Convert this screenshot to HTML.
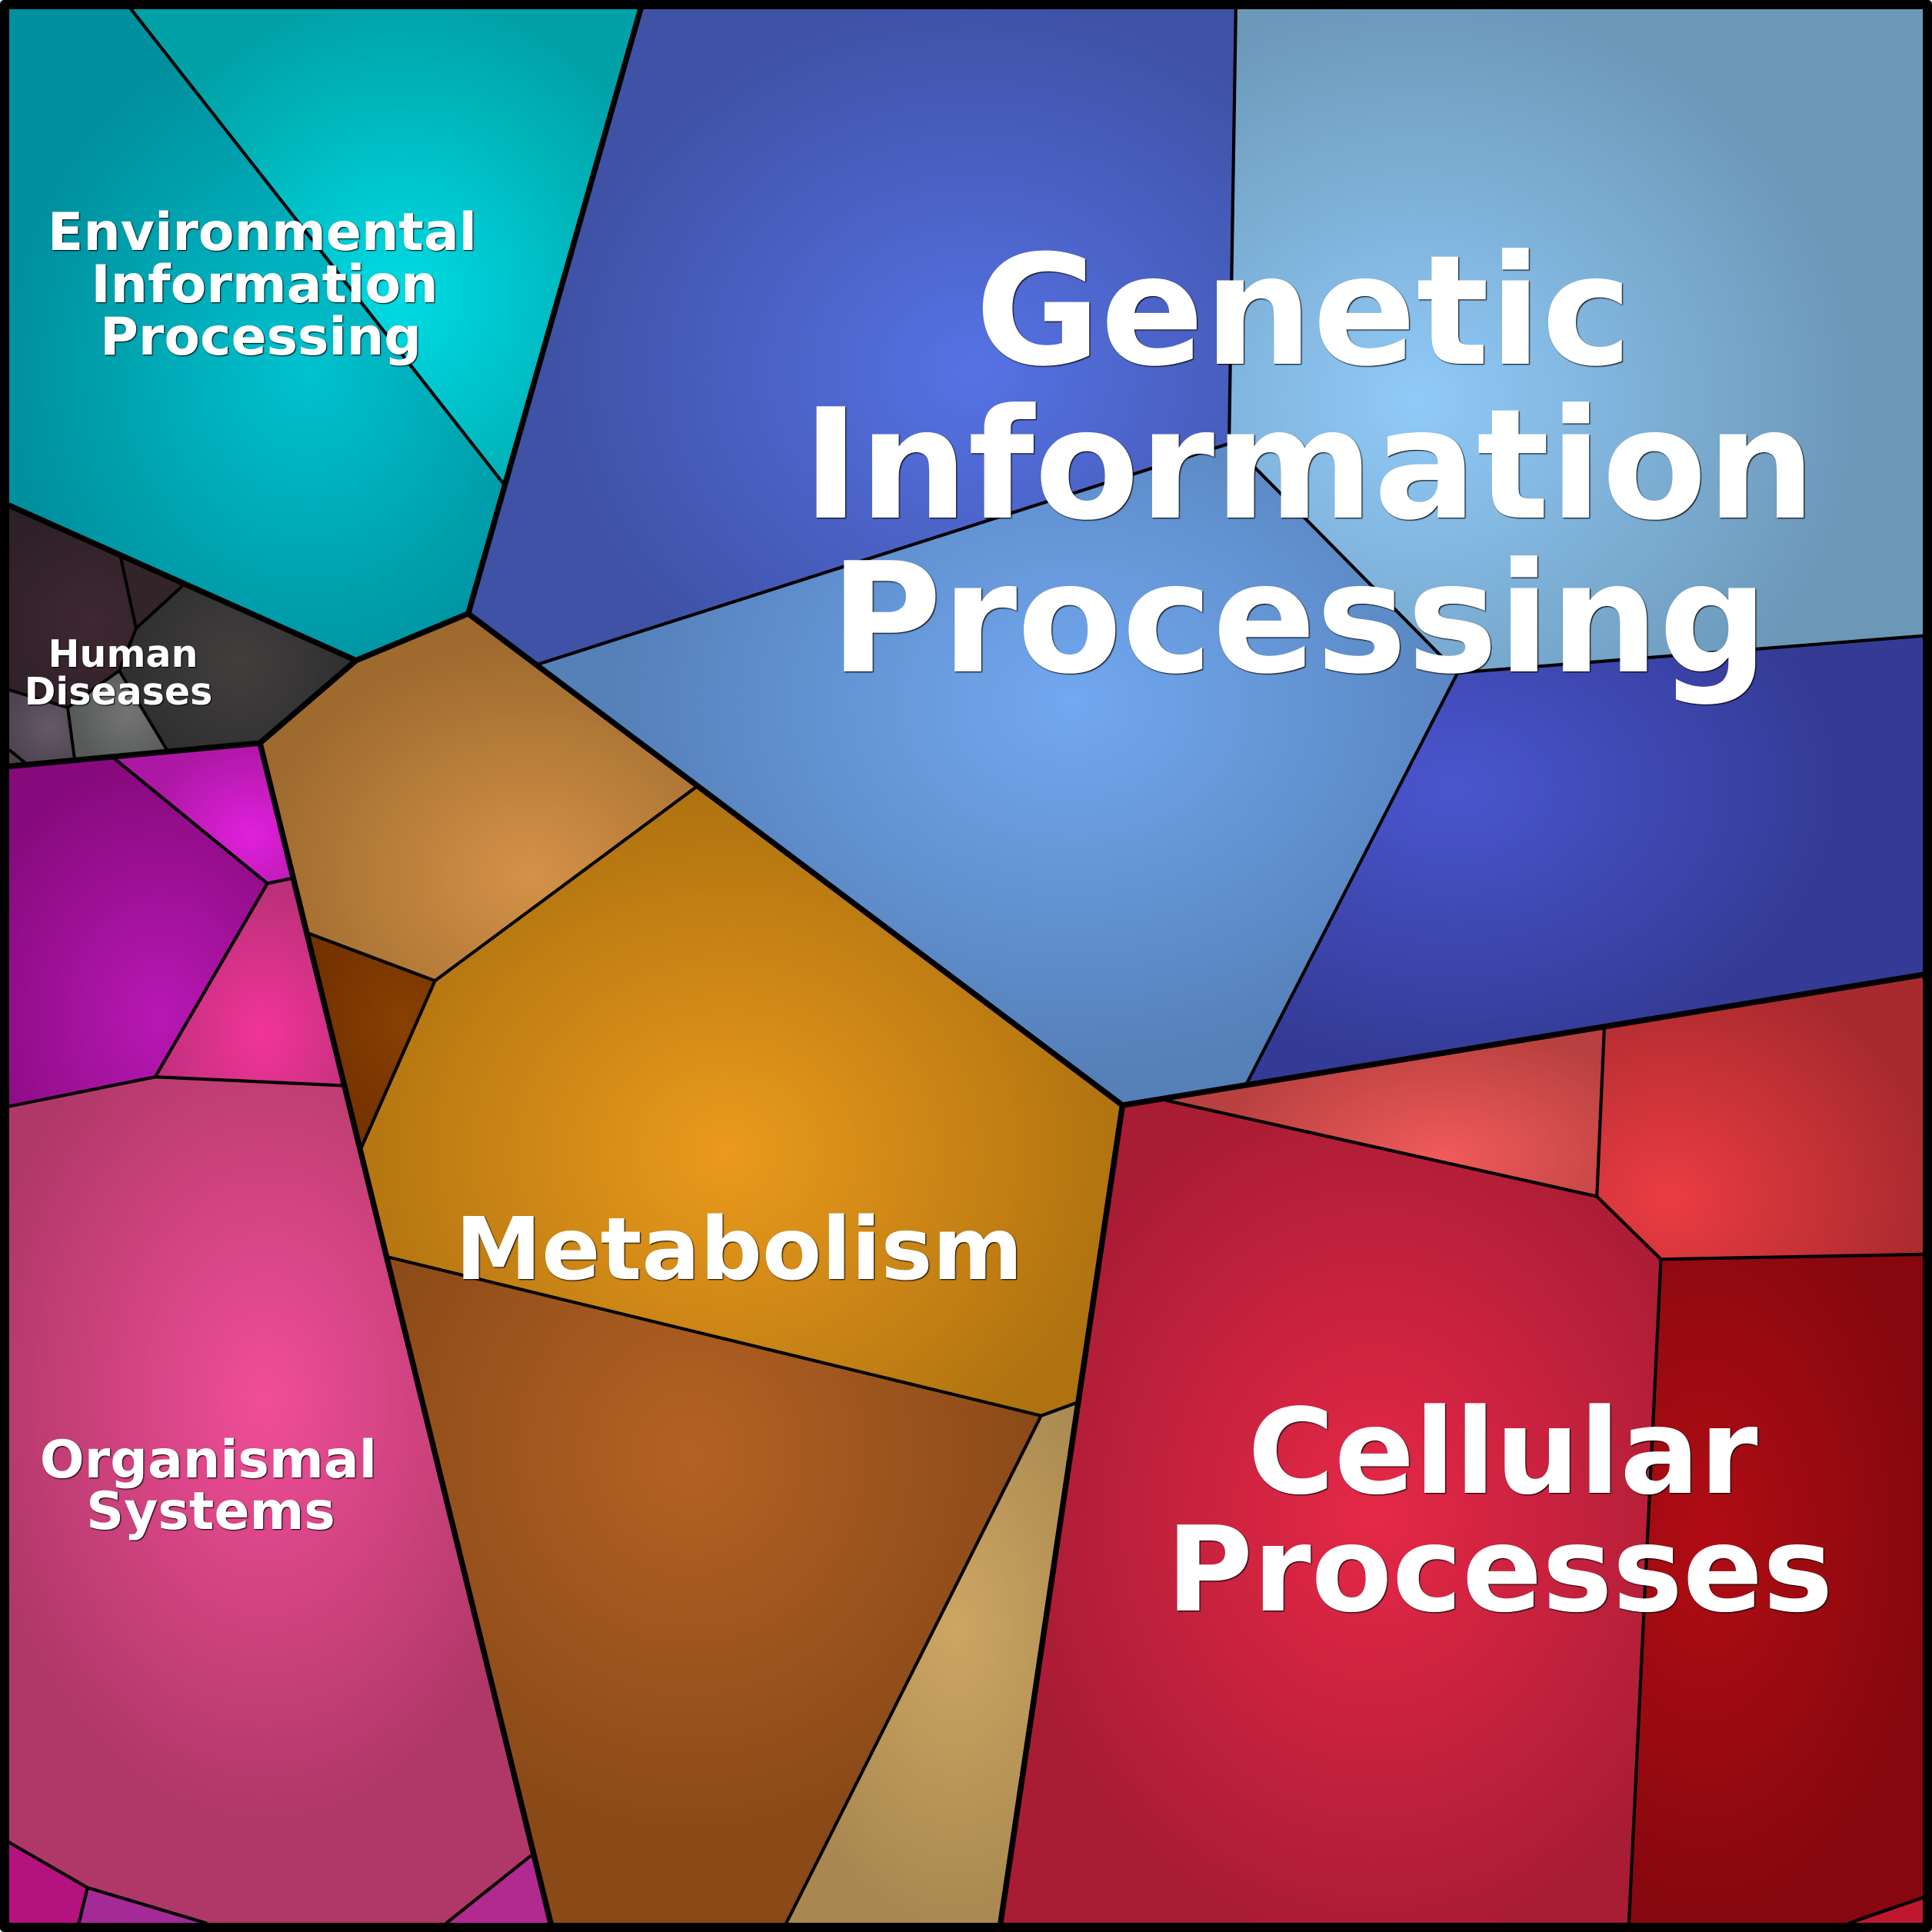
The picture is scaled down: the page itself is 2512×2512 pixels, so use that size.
<!DOCTYPE html>
<html><head><meta charset="utf-8"><style>
html,body{margin:0;padding:0;background:#fff}
svg{display:block}
text{font-family:"DejaVu Sans",sans-serif;font-weight:700;fill:#fff;text-anchor:middle}
.s{filter:drop-shadow(1.5px 1.5px .7px #000)}
.m{stroke:#000;stroke-width:4.2;stroke-linejoin:round;fill:none}
.M{stroke:#000;stroke-width:7.5;stroke-linejoin:round;fill:none}
</style></head><body>
<svg width="2512" height="2512" viewBox="0 0 2512 2512" xmlns="http://www.w3.org/2000/svg">
<defs>
<radialGradient id="e1" gradientUnits="userSpaceOnUse" cx="0" cy="0" r="1" gradientTransform="translate(250 300) scale(245 280)"><stop offset="0" stop-color="#00c2ce"/><stop offset="1" stop-color="#008f9d"/></radialGradient>
<radialGradient id="e2" gradientUnits="userSpaceOnUse" cx="0" cy="0" r="1" gradientTransform="translate(325 240) scale(230 240)"><stop offset="0" stop-color="#00dbe3"/><stop offset="1" stop-color="#00a2a8"/></radialGradient>
<radialGradient id="g1" gradientUnits="userSpaceOnUse" cx="0" cy="0" r="1" gradientTransform="translate(790 300) scale(340 300)"><stop offset="0" stop-color="#5672e4"/><stop offset="1" stop-color="#3f52a6"/></radialGradient>
<radialGradient id="g2" gradientUnits="userSpaceOnUse" cx="0" cy="0" r="1" gradientTransform="translate(1150 325) scale(360 330)"><stop offset="0" stop-color="#90caf8"/><stop offset="1" stop-color="#6c98b8"/></radialGradient>
<radialGradient id="g3" gradientUnits="userSpaceOnUse" cx="0" cy="0" r="1" gradientTransform="translate(870 570) scale(373 300)"><stop offset="0" stop-color="#72a8f0"/><stop offset="1" stop-color="#5580b8"/></radialGradient>
<radialGradient id="g4" gradientUnits="userSpaceOnUse" cx="0" cy="0" r="1" gradientTransform="translate(1180 640) scale(310 225)"><stop offset="0" stop-color="#4a56ce"/><stop offset="1" stop-color="#343b96"/></radialGradient>
<radialGradient id="m1" gradientUnits="userSpaceOnUse" cx="0" cy="0" r="1" gradientTransform="translate(430 710) scale(225 190)"><stop offset="0" stop-color="#d49248"/><stop offset="1" stop-color="#9e6a2e"/></radialGradient>
<radialGradient id="m2" gradientUnits="userSpaceOnUse" cx="0" cy="0" r="1" gradientTransform="translate(325 830) scale(70 90)"><stop offset="0" stop-color="#883f02"/><stop offset="1" stop-color="#753300"/></radialGradient>
<radialGradient id="m3" gradientUnits="userSpaceOnUse" cx="0" cy="0" r="1" gradientTransform="translate(590 935) scale(330 295)"><stop offset="0" stop-color="#ea9a1c"/><stop offset="1" stop-color="#ae7210"/></radialGradient>
<radialGradient id="m4" gradientUnits="userSpaceOnUse" cx="0" cy="0" r="1" gradientTransform="translate(560 1180) scale(285 310)"><stop offset="0" stop-color="#b46224"/><stop offset="1" stop-color="#8a4a18"/></radialGradient>
<radialGradient id="m5" gradientUnits="userSpaceOnUse" cx="0" cy="0" r="1" gradientTransform="translate(775 1320) scale(150 250)"><stop offset="0" stop-color="#cca662"/><stop offset="1" stop-color="#a88850"/></radialGradient>
<radialGradient id="c1" gradientUnits="userSpaceOnUse" cx="0" cy="0" r="1" gradientTransform="translate(1172 938) scale(190 105)"><stop offset="0" stop-color="#f05a5a"/><stop offset="1" stop-color="#b84040"/></radialGradient>
<radialGradient id="c2" gradientUnits="userSpaceOnUse" cx="0" cy="0" r="1" gradientTransform="translate(1355 972) scale(215 190)"><stop offset="0" stop-color="#ea3c42"/><stop offset="1" stop-color="#a82a2e"/></radialGradient>
<radialGradient id="c3" gradientUnits="userSpaceOnUse" cx="0" cy="0" r="1" gradientTransform="translate(1115 1228) scale(300 360)"><stop offset="0" stop-color="#e62848"/><stop offset="1" stop-color="#a81c34"/></radialGradient>
<radialGradient id="c4" gradientUnits="userSpaceOnUse" cx="0" cy="0" r="1" gradientTransform="translate(1384 1250) scale(185 310)"><stop offset="0" stop-color="#b00c14"/><stop offset="1" stop-color="#86080e"/></radialGradient>
<radialGradient id="o1" gradientUnits="userSpaceOnUse" cx="0" cy="0" r="1" gradientTransform="translate(203 677) scale(85 75)"><stop offset="0" stop-color="#e020dc"/><stop offset="1" stop-color="#ac18a4"/></radialGradient>
<radialGradient id="o2" gradientUnits="userSpaceOnUse" cx="0" cy="0" r="1" gradientTransform="translate(130 825) scale(165 210)"><stop offset="0" stop-color="#b818b4"/><stop offset="1" stop-color="#860a7c"/></radialGradient>
<radialGradient id="o3" gradientUnits="userSpaceOnUse" cx="0" cy="0" r="1" gradientTransform="translate(213 838) scale(100 125)"><stop offset="0" stop-color="#f23498"/><stop offset="1" stop-color="#b83078"/></radialGradient>
<radialGradient id="o4" gradientUnits="userSpaceOnUse" cx="0" cy="0" r="1" gradientTransform="translate(215 1135) scale(235 345)"><stop offset="0" stop-color="#f04e98"/><stop offset="1" stop-color="#b03868"/></radialGradient>
<radialGradient id="h1" gradientUnits="userSpaceOnUse" cx="120" cy="810" r="150"><stop offset="0" stop-color="#3e2832"/><stop offset="1" stop-color="#2e2028"/></radialGradient>
<radialGradient id="h3" gradientUnits="userSpaceOnUse" cx="310" cy="860" r="160"><stop offset="0" stop-color="#423e3e"/><stop offset="1" stop-color="#2e2e2e"/></radialGradient>
<radialGradient id="h4" gradientUnits="userSpaceOnUse" cx="165" cy="930" r="70"><stop offset="0" stop-color="#747474"/><stop offset="1" stop-color="#585a5a"/></radialGradient>
<radialGradient id="h5" gradientUnits="userSpaceOnUse" cx="65" cy="945" r="60"><stop offset="0" stop-color="#665868"/><stop offset="1" stop-color="#4c4450"/></radialGradient>
</defs>
<rect width="2512" height="2512" rx="5" fill="#000"/>
<g transform="scale(1.60204)">
<polygon fill="url(#e1)" points="7,7 106,7 409,393 380,498 289,536 7,410"/>
<polygon fill="url(#e2)" points="106,7 520,7 409,393"/>
<polygon fill="url(#g1)" points="520,7 1003,7 997.5,360 437,539 380,498"/>
<polygon fill="url(#g2)" points="1003,7 1561,7 1561,516 1183,546 1019,380 997.5,360"/>
<polygon fill="url(#g3)" points="437,539 997.5,360 1019,380 1183,546 1012,879 911,897 566,638"/>
<polygon fill="url(#g4)" points="1183,546 1561,516 1561,791 1012,879"/>
<polygon fill="url(#m1)" points="380,498 566,638 353,796 249,757 211,603 289,536"/>
<polygon fill="url(#m2)" points="249,757 353,796 293,932"/>
<polygon fill="url(#m3)" points="566,638 911,897 875,1138 845,1149 314,1020 293,932 353,796"/>
<polygon fill="url(#m4)" points="314,1020 845,1149 638,1561 447,1561"/>
<polygon fill="url(#m5)" points="845,1149 875,1138 812,1561 638,1561"/>
<polygon fill="url(#c1)" points="946,893 1302,835 1296,971"/>
<polygon fill="url(#c2)" points="1302,835 1561,791 1561,1018 1348,1022 1296,971"/>
<polygon fill="url(#c3)" points="911,897 946,893 1296,971 1348,1022 1322,1561 812,1561"/>
<polygon fill="url(#c4)" points="1348,1022 1561,1018 1561,1540 1500,1561 1322,1561"/>
<polygon fill="#bf182e" points="1561,1540 1561,1561 1500,1561"/>
<polygon fill="url(#o1)" points="92,615 211,603 236,713 217,717"/>
<polygon fill="url(#o2)" points="7,622 92,615 217,717 126,874 7,898"/>
<polygon fill="url(#o3)" points="217,717 236,713 278,881 126,874"/>
<polygon fill="url(#o4)" points="7,898 126,874 278,881 431,1506 362,1561 168,1561 71,1532 7,1495"/>
<polygon fill="#b4127f" points="7,1495 71,1532 64,1561 7,1561"/>
<polygon fill="#a42a98" points="71,1532 168,1561 64,1561"/>
<polygon fill="#b22a90" points="431,1506 447,1561 362,1561"/>
</g>
<g>
<polygon fill="url(#h1)" points="12,655 157,725 177,817 155,872 88,920 12,897"/>
<polygon fill="#332429" points="157,725 237,762 177,817"/>
<polygon fill="url(#h3)" points="237,762 463,858 338,967 217,975 155,872 177,817"/>
<polygon fill="url(#h4)" points="155,872 217,975 97,987 88,920"/>
<polygon fill="url(#h5)" points="12,897 88,920 97,987 33,992 12,975"/>
<polygon fill="#4a4048" points="12,975 33,992 12,996"/>
<g class="m" style="stroke-width:4">
<polyline points="157,725 177,817 155,872 88,920 12,897"/>
<polyline points="237,762 177,817"/><polyline points="155,872 217,975"/>
<polyline points="88,920 97,987"/><polyline points="12,975 33,992"/>
</g>
</g>
<g transform="scale(1.60204)" fill="none">
<g class="m" style="stroke-width:2.6">
<polyline points="106,7 409,393"/>
<polyline points="437,539 997.5,360 1003,7"/>
<polyline points="997.5,360 1019,380 1183,546 1012,879"/>
<polyline points="1183,546 1561,516"/>
<polyline points="566,638 353,796 249,757"/><polyline points="353,796 293,932"/>
<polyline points="314,1020 845,1149 875,1138"/><polyline points="845,1149 638,1561"/>
<polyline points="946,893 1296,971 1348,1022 1322,1561"/><polyline points="1302,835 1296,971"/><polyline points="1348,1022 1561,1018"/>
<polyline points="1561,1540 1500,1561"/>
<polyline points="92,615 217,717 236,713"/><polyline points="217,717 126,874 278,881"/>
<polyline points="7,898 126,874"/>
<polyline points="7,1495 71,1532 168,1561"/><polyline points="71,1532 64,1561"/><polyline points="431,1506 362,1561"/>
</g>
<g class="M" style="stroke-width:4.6">
<polyline points="7,410 289,536 380,498 520,7"/>
<polyline points="380,498 911,897 1561,791"/>
<polyline points="911,897 812,1561"/>
<polyline points="7,622 211,603 447,1561"/>
<polyline points="289,536 211,603"/>
</g>
</g>
<rect x="6" y="6" width="2500" height="2500" rx="2" fill="none" stroke="#000" stroke-width="12"/>
<g class="s">
<text x="341" y="325" font-size="68">Environmental</text>
<text x="344" y="393" font-size="68">Information</text>
<text x="339" y="461" font-size="68">Processing</text>
<text x="160" y="867" font-size="49">Human</text>
<text x="154" y="916" font-size="49">Diseases</text>
<text x="271" y="1921" font-size="68">Organismal</text>
<text x="274" y="1988" font-size="68">Systems</text>
<text x="1695" y="473" font-size="198.5">Genetic</text>
<text x="1702" y="673" font-size="198.5">Information</text>
<text x="1689" y="873" font-size="198.5">Processing</text>
<text x="961" y="1663" font-size="112.6">Metabolism</text>
<text x="1954" y="1941" font-size="153.5">Cellular</text>
<text x="1950" y="2094" font-size="153.5">Processes</text>
</g>
</svg>
</body></html>
